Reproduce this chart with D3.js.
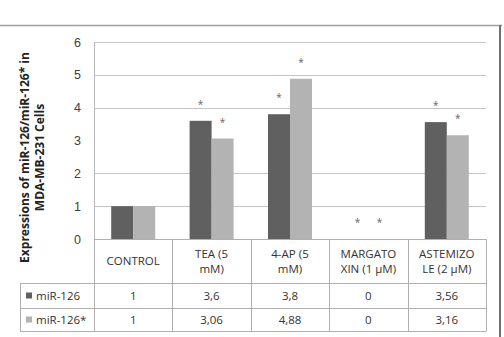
<!DOCTYPE html>
<html>
<head>
<meta charset="utf-8">
<script src="https://cdn.jsdelivr.net/npm/d3@7"></script>
<style>
  body { margin: 0; background: #fff; }
  svg { display: block; font-family: "Open Sans", sans-serif; }
</style>
</head>
<body>
<svg id="chart" width="504" height="337"></svg>
<script>
// categories and their two-line labels in the table header
const categories = ['CONTROL', 'TEA', '4-AP', 'MARGATOXIN', 'ASTEMIZOLE'];
const catLabels = [['CONTROL'], ['TEA (5', 'mM)'], ['4-AP (5', 'mM)'], ['MARGATO', 'XIN (1 \u03bcM)'], ['ASTEMIZO', 'LE (2 \u03bcM)']];
const seriesNames = ['miR-126', 'miR-126*'];
const mir126 = [1, 3.6, 3.8, 0, 3.56];
const mir126star = [1, 3.06, 4.88, 0, 3.16];
const mir126Text = ['1', '3,6', '3,8', '0', '3,56'];
const mir126starText = ['1', '3,06', '4,88', '0', '3,16'];
// which bars carry a significance star
const starred = [[false, false], [true, true], [true, true], [true, true], [true, true]];
const yTicks = [0, 1, 2, 3, 4, 5, 6];
const gridTicks = [1, 2, 4, 5, 6]; // the line at 3 is missing in the original

const colors = ['#606060', '#b3b3b3'];
const svg = d3.select('#chart');

const plotLeft = 94, plotRight = 486, plotTop = 42, plotBottom = 239;
const tableLeft = 20, headerBottom = 283, row1Bottom = 308, row2Bottom = 331;

const x0 = d3.scaleBand().domain(categories).range([plotLeft, plotRight]).padding(0);
const barW = 22;
const x1 = d3.scaleBand().domain(seriesNames)
  .range([x0.bandwidth() / 2 - barW, x0.bandwidth() / 2 + barW]);
const y = d3.scaleLinear().domain([0, 6]).range([plotBottom, plotTop]);

const values = [mir126, mir126star];
const data = [];
categories.forEach((c, i) => {
  seriesNames.forEach((s, j) => {
    data.push({ cat: c, series: s, j: j, value: values[j][i], star: starred[i][j] });
  });
});

// outer frame bits
svg.append('line').attr('x1', 0).attr('x2', 502).attr('y1', 25.5).attr('y2', 25.5)
  .attr('stroke', '#a0a0a0').attr('stroke-width', 1.5);
svg.append('line').attr('x1', 500).attr('x2', 500).attr('y1', 25).attr('y2', 337)
  .attr('stroke', '#707070').attr('stroke-width', 2);

// gridlines
svg.append('g').selectAll('line').data(gridTicks).join('line')
  .attr('x1', plotLeft).attr('x2', plotRight)
  .attr('y1', d => Math.round(y(d)) + 0.5).attr('y2', d => Math.round(y(d)) + 0.5)
  .attr('stroke', '#c4c4c4').attr('stroke-width', 1);

// y axis
const yAxis = svg.append('g').attr('transform', `translate(${plotLeft},0)`)
  .call(d3.axisLeft(y).tickValues(yTicks).tickFormat(d3.format('d')).tickSize(0).tickPadding(13));
yAxis.select('.domain').attr('stroke', '#b8b8b8');
yAxis.selectAll('text').attr('font-size', 12.5).attr('fill', '#404040');

// bars
svg.append('g').selectAll('rect').data(data).join('rect')
  .attr('x', d => x0(d.cat) + x1(d.series))
  .attr('y', d => y(d.value))
  .attr('width', x1.bandwidth())
  .attr('height', d => y(0) - y(d.value))
  .attr('fill', d => colors[d.j]);

// stars
svg.append('g').selectAll('text').data(data.filter(d => d.star)).join('text')
  .attr('x', d => x0(d.cat) + x1(d.series) + x1.bandwidth() / 2)
  .attr('y', d => y(d.value) - 13)
  .attr('text-anchor', 'middle')
  .attr('font-size', 10).attr('fill', '#666')
  .text('*');

// y axis title
const title = svg.append('text')
  .attr('transform', `translate(29,${(plotTop + plotBottom) / 2 + 17}) rotate(-90)`)
  .attr('text-anchor', 'middle')
  .attr('font-size', 12).attr('font-weight', 'bold').attr('fill', '#222');
title.append('tspan').attr('x', 0).attr('dy', 0).text('Expressions of  miR-126/miR-126* in');
title.append('tspan').attr('x', 0).attr('dy', 15).text('MDA-MB-231 Cells');

// data table
const tbl = svg.append('g').attr('stroke', '#b0b0b0').attr('stroke-width', 1);
// horizontal lines
[[plotLeft, plotRight, plotBottom], [tableLeft, plotRight, headerBottom], [tableLeft, plotRight, row1Bottom], [tableLeft, plotRight, row2Bottom]]
  .forEach(([a, b, yy]) => tbl.append('line').attr('x1', a).attr('x2', b)
    .attr('y1', yy + 0.5).attr('y2', yy + 0.5));
// vertical lines
tbl.append('line').attr('x1', tableLeft + 0.5).attr('x2', tableLeft + 0.5)
  .attr('y1', headerBottom).attr('y2', row2Bottom + 0.5);
categories.concat(['end']).forEach((c, i) => {
  const xx = c === 'end' ? plotRight : x0(c);
  tbl.append('line').attr('x1', Math.round(xx) + 0.5).attr('x2', Math.round(xx) + 0.5)
    .attr('y1', plotBottom).attr('y2', row2Bottom + 0.5);
});

// header labels
const header = svg.append('g').attr('font-size', 11.5).attr('fill', '#333').attr('text-anchor', 'middle');
categories.forEach((c, i) => {
  const lines = catLabels[i];
  const cx = x0(c) + x0.bandwidth() / 2;
  const cy = (plotBottom + headerBottom) / 2;
  const t = header.append('text').attr('x', cx);
  lines.forEach((l, k) => {
    t.append('tspan').attr('x', cx)
      .attr('y', cy + 4 + (k - (lines.length - 1) / 2) * 15)
      .text(l);
  });
});

// table rows
const rowTexts = [mir126Text, mir126starText];
const rowY = [(headerBottom + row1Bottom) / 2, (row1Bottom + row2Bottom) / 2];
seriesNames.forEach((s, j) => {
  svg.append('rect').attr('x', 26).attr('y', rowY[j] - 3).attr('width', 6).attr('height', 6)
    .attr('fill', colors[j]);
  svg.append('text').attr('x', 36).attr('y', rowY[j] + 4)
    .attr('font-size', 11.5).attr('fill', '#333').text(s);
  svg.append('g').selectAll('text').data(categories).join('text')
    .attr('x', d => x0(d) + x0.bandwidth() / 2)
    .attr('y', rowY[j] + 4)
    .attr('text-anchor', 'middle')
    .attr('font-size', 11.5).attr('fill', '#333')
    .text((d, i) => rowTexts[j][i]);
});
</script>
</body>
</html>
